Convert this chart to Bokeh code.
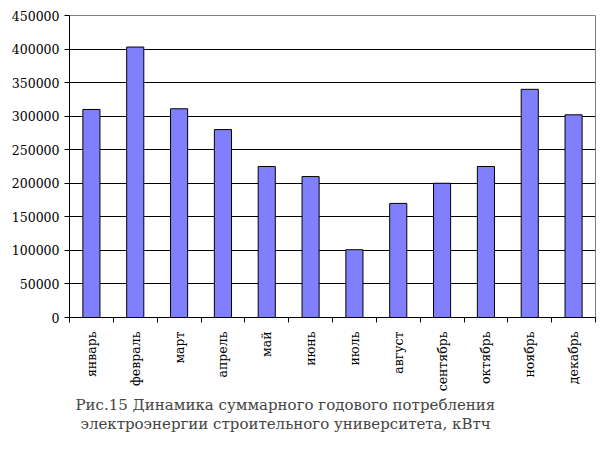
import math
from bokeh.plotting import figure
from bokeh.models import FixedTicker, Range1d, Title, BasicTickFormatter, ColumnDataSource
from bokeh.embed import file_html
from bokeh.resources import INLINE

months = ["январь", "февраль", "март", "апрель", "май", "июнь",
          "июль", "август", "сентябрь", "октябрь", "ноябрь", "декабрь"]
values = [310000, 403000, 311000, 280000, 225000, 210000,
          101000, 170000, 200000, 225000, 340000, 302000]
y_ticks = [0, 50000, 100000, 150000, 200000, 250000, 300000, 350000, 400000, 450000]
caption1 = "Рис.15 Динамика суммарного годового потребления"
caption2 = "электроэнергии строительного университета, кВтч"

xs = [i + 0.5 for i in range(len(months))]
src = ColumnDataSource(dict(x=xs, top=values))

p = figure(width=598, height=452, output_backend="svg", toolbar_location=None,
           x_range=Range1d(0, 12), y_range=Range1d(0, 450000),
           min_border_left=69, min_border_right=3, min_border_top=15, min_border_bottom=135)
p.background_fill_color = "white"
p.border_fill_color = "white"
p.outline_line_color = "#808080"

p.vbar(x="x", top="top", width=0.39, bottom=0, source=src,
       fill_color="#8080FF", line_color="black", line_width=1)

FONT = "DejaVu Serif"

# y axis
p.yaxis.ticker = FixedTicker(ticks=y_ticks)
p.yaxis.formatter = BasicTickFormatter(use_scientific=False)
p.yaxis.major_label_text_font = FONT
p.yaxis.major_label_text_font_size = "12.5px"
p.yaxis.major_label_text_color = "black"
p.yaxis.major_tick_out = 5
p.yaxis.major_tick_in = 0
p.yaxis.major_label_standoff = 5
p.yaxis.minor_tick_line_color = None
p.yaxis.axis_line_color = "black"
p.yaxis.major_tick_line_color = "black"

# x axis
p.xaxis.ticker = FixedTicker(ticks=xs, minor_ticks=list(range(13)))
p.xaxis.major_label_overrides = {x: m for x, m in zip(xs, months)}
p.xaxis.major_label_orientation = math.pi / 2
p.xaxis.major_label_text_font = FONT
p.xaxis.major_label_text_font_size = "12.5px"
p.xaxis.major_label_text_color = "black"
p.xaxis.major_tick_out = 0
p.xaxis.major_tick_in = 0
p.xaxis.minor_tick_out = 5
p.xaxis.minor_tick_in = 0
p.xaxis.minor_tick_line_color = "black"
p.xaxis.axis_line_color = "black"
p.xaxis.major_label_standoff = 9

# grid
p.xgrid.grid_line_color = None
p.ygrid.ticker = FixedTicker(ticks=y_ticks[1:-1])
p.ygrid.grid_line_color = "black"
p.ygrid.grid_line_width = 1

p.add_layout(Title(text=caption1, align="left", offset=6, text_font=FONT,
                   text_font_size="15px", text_font_style="normal", standoff=-1), "below")
p.add_layout(Title(text=caption2, align="left", offset=11, text_font=FONT,
                   text_font_size="15px", text_font_style="normal", standoff=-2), "below")

open("out.html", "w").write(file_html(p, INLINE))
